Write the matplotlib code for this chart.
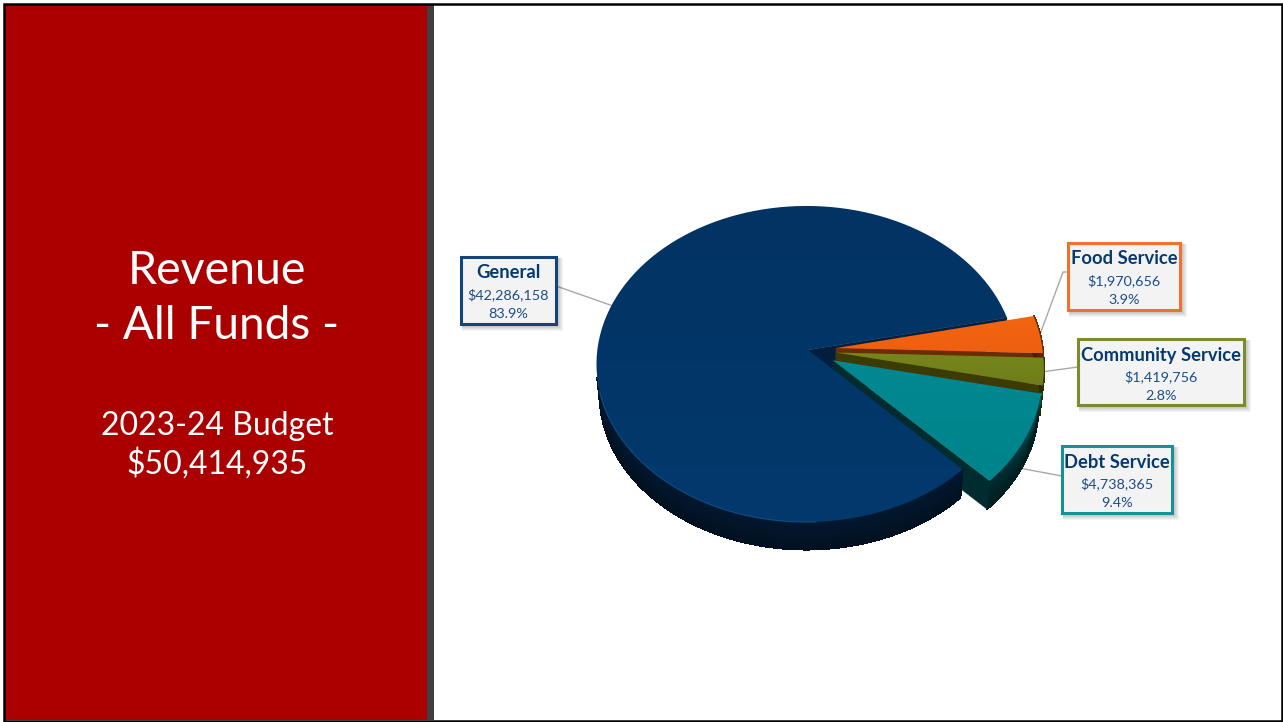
import numpy as np
import matplotlib
matplotlib.use('Agg')
import matplotlib.pyplot as plt
from matplotlib.collections import PolyCollection
from matplotlib.colors import to_rgb, LinearSegmentedColormap
from matplotlib.patches import Polygon, Rectangle

# budget figures
funds = ['General', 'Debt Service', 'Community Service', 'Food Service']
amounts = [42286158, 4738365, 1419756, 1970656]
amount_labels = ['$42,286,158', '$4,738,365', '$1,419,756', '$1,970,656']
percent_labels = ['83.9%', '9.4%', '2.8%', '3.9%']
exploded = [0.0, 0.135, 0.135, 0.135]

top_light = ['#03396d', '#008890', '#76861c', '#f26510']
top_dark = ['#023363', '#00848c', '#6e7d18', '#ee6010']
wall_colors = ['#02182f', '#002c2f', '#3c3a05', '#6b2c08']
border_colors = ['#12457c', '#17909a', '#7b8c2e', '#f4702a']

# label boxes: left, top, right, bottom in pixels
boxes = {
    'General': (461, 257, 556, 324),
    'Debt Service': (1062, 446, 1172, 513),
    'Community Service': (1078, 339, 1244, 405),
    'Food Service': (1068, 243, 1180, 310),
}

plt.rcParams['font.family'] = ['Lato', 'DejaVu Sans']

W, H = 1283, 722
fig = plt.figure(figsize=(W / 100, H / 100), dpi=100)
ax = fig.add_axes([0, 0, 1, 1])
ax.set_xlim(0, W)
ax.set_ylim(H, 0)
ax.axis('off')

# pie geometry, perspective is a simple homography of the unit disc
CX, CY = 808, 350
RX, RY = 209, 156.8
PERSP_V = 0.0886
PERSP_U = 0.008
DEPTH = 30
START = 12.2


def project(u, v, down=0.0):
    scale = 1 - 0.015 * down / DEPTH
    d = 1 + PERSP_V * v + PERSP_U * u
    return CX + scale * RX * u / d, CY + down + scale * RY * -v / d


def slice_points(a0, a1, shift, n=120):
    t = np.radians(np.linspace(a0, a1, n))
    return np.cos(t) + shift[0], np.sin(t) + shift[1]


def rim_fade(f):
    return f ** 1.5


def wall_band(a0, a1, shift, color, rim=None, n=120, rows=8):
    # outer wall as a grid of small quads so it can carry shading
    u, v = slice_points(a0, a1, shift, n)
    quads, cols = [], []
    base = np.array(to_rgb(color))
    for i in range(n - 1):
        f = i / (n - 2)
        for j in range(rows):
            d0, d1 = DEPTH * j / rows, DEPTH * (j + 1) / rows
            x00, y00 = project(u[i], v[i], d0)
            x10, y10 = project(u[i + 1], v[i + 1], d0)
            x11, y11 = project(u[i + 1], v[i + 1], d1)
            x01, y01 = project(u[i], v[i], d1)
            quads.append([(x00, y00), (x10, y10), (x11, y11), (x01, y01)])
            c = base * (1 - 0.35 * j / rows)
            if rim is not None:
                c = c + (np.array(to_rgb(rim)) - c) * rim_fade(f) * (1 - j / rows) ** 2
            cols.append(np.clip(c, 0, 1))
    ax.add_collection(PolyCollection(quads, facecolors=cols, edgecolors=cols,
                                     linewidths=0.8, antialiaseds=False, zorder=2))


def flat_wall(a, shift, color):
    x0, y0 = project(shift[0], shift[1])
    x1, y1 = project(np.cos(np.radians(a)) + shift[0], np.sin(np.radians(a)) + shift[1])
    x2, y2 = project(np.cos(np.radians(a)) + shift[0], np.sin(np.radians(a)) + shift[1], DEPTH)
    x3, y3 = project(shift[0], shift[1], DEPTH)
    ax.add_patch(Polygon([(x0, y0), (x1, y1), (x2, y2), (x3, y3)], closed=True,
                         fc=color, ec=color, lw=0.4, zorder=2))


def top_face(a0, a1, shift, c_top, c_bottom):
    u, v = slice_points(a0, a1, shift)
    x, y = project(u, v)
    ax_, ay_ = project(shift[0], shift[1])
    pts = np.column_stack([np.r_[ax_, x], np.r_[ay_, y]])
    poly = Polygon(pts, closed=True, fc='none', ec='none', zorder=2)
    ax.add_patch(poly)
    cmap = LinearSegmentedColormap.from_list('face', [c_top, c_bottom])
    grad = np.linspace(0, 1, 64).reshape(-1, 1)
    im = ax.imshow(grad, cmap=cmap, extent=(pts[:, 0].min(), pts[:, 0].max(),
                                            pts[:, 1].max(), pts[:, 1].min()),
                   aspect='auto', zorder=2, interpolation='bilinear')
    im.set_clip_path(poly)
    return x, y


# slice angles from the amounts
share = np.array(amounts) / sum(amounts) * 360
edges = START + np.r_[0, np.cumsum(share)]
mids = (edges[:-1] + edges[1:]) / 2
shifts = [(e * np.cos(np.radians(m)), e * np.sin(np.radians(m))) for e, m in zip(exploded, mids)]

# back to front: cut faces and outer walls first, then the top faces
flat_wall(edges[0], shifts[0], '#011f3d')
flat_wall(edges[3], shifts[3], wall_colors[3])
flat_wall(edges[2], shifts[2], wall_colors[2])
wall_band(edges[3], edges[4], shifts[3], wall_colors[3])
wall_band(edges[2], edges[3], shifts[2], wall_colors[2])
wall_band(edges[1], edges[2], shifts[1], wall_colors[1], rim='#0b7479')
flat_wall(edges[1], shifts[1], wall_colors[1])
wall_band(190, edges[1], shifts[0], wall_colors[0])

x, y = top_face(edges[0], edges[1], shifts[0], top_dark[0], top_light[0])
ax.plot(*project(*slice_points(195, 272, shifts[0])), color='#1f62a8', lw=0.8, alpha=0.6, zorder=2)
x, y = top_face(edges[3], edges[4], shifts[3], top_light[3], top_dark[3])
ax.plot(x, y, color='#5a3410', lw=0.6, zorder=2)
x, y = top_face(edges[2], edges[3], shifts[2], top_light[2], top_dark[2])
ax.plot(x, y, color='#33340a', lw=0.6, zorder=2)
x, y = top_face(edges[1], edges[2], shifts[1], top_light[1], top_dark[1])

ax.set_xlim(0, W)
ax.set_ylim(H, 0)

# leader lines run from the middle of each slice to its label box
anchors = {'General': (556, 286), 'Debt Service': (1062, 476),
           'Community Service': (1078, 367), 'Food Service': (1063, 272)}
for i, name in enumerate(funds):
    m = np.radians(mids[i])
    u = np.cos(m) + shifts[i][0]
    v = np.sin(m) + shifts[i][1]
    tip = project(u, v, DEPTH if name == 'Debt Service' else 0)
    bx, by = anchors[name]
    xs, ys = [tip[0], bx], [tip[1], by]
    if name == 'Food Service':
        xs.append(1068)
        ys.append(by)
    ax.plot(xs, ys, color='#a8a8a8', lw=1.0, zorder=1)

# label boxes with a soft drop shadow
for i, name in enumerate(funds):
    l, t, r, b = boxes[name]
    for k in range(5, 0, -1):
        ax.add_patch(Rectangle((l + 1, t + 1), r - l + k + 1, b - t + k + 1, fc='#000000',
                               ec='none', alpha=0.045, zorder=3))
    ax.add_patch(Rectangle((l, t), r - l, b - t, fc='#f3f3f3', ec=border_colors[i],
                           lw=2.2, zorder=4))
    cx = (l + r) / 2
    ax.text(cx, t + 16, name, ha='center', va='center', fontsize=13.2, fontweight='bold',
            color='#053a70', zorder=5)
    ax.text(cx, t + 38, amount_labels[i], ha='center', va='center', fontsize=10.4,
            color='#1d4e86', zorder=5)
    ax.text(cx, t + 57, percent_labels[i], ha='center', va='center', fontsize=10.4,
            color='#1d4e86', zorder=5)

# title panel and frame
ax.add_patch(Rectangle((4, 4), 423, 716, fc='#aa0000', ec='none', zorder=1))
ax.add_patch(Rectangle((427, 4), 7, 716, fc='#404040', ec='none', zorder=1))
ax.add_patch(Rectangle((3.5, 4), W - 5, H - 5, fc='none', ec='black', lw=1.8, zorder=6))

for txt, yy, fs in [('Revenue', 271, 33.5), ('- All Funds -', 326, 33),
                    ('2023-24 Budget', 426, 23), ('$50,414,935', 464, 23)]:
    ax.text(217, yy, txt, ha='center', va='center', fontsize=fs, color='white', zorder=5)

fig.savefig('out.png', dpi=100, facecolor='white')
